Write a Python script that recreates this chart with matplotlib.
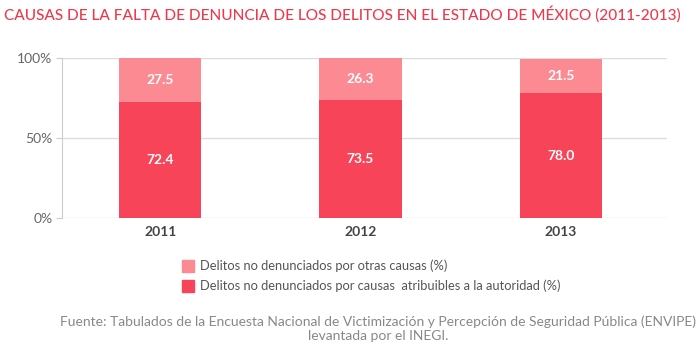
import matplotlib.pyplot as plt
from matplotlib.patches import Rectangle

plt.rcParams['font.family'] = ['Lato', 'DejaVu Sans']

years = ['2011', '2012', '2013']
autoridad = [72.4, 73.5, 78.0]
otras = [27.5, 26.3, 21.5]

c_light = '#FB8A93'
c_red = '#F84458'

fig = plt.figure(figsize=(7, 3.5), dpi=100)
ax = fig.add_axes([62 / 700, 1 - 218 / 350, 605 / 700, 160 / 350])

x = range(len(years))
ax.bar(x, autoridad, width=0.41, color=c_red, zorder=3)
ax.bar(x, otras, width=0.41, bottom=autoridad, color=c_light, zorder=3)

for i in x:
    ax.text(i, autoridad[i] / 2, f'{autoridad[i]:.1f}', ha='center', va='center',
            color='white', fontsize=10, fontweight='bold', zorder=4)
    ax.text(i, autoridad[i] + otras[i] / 2, f'{otras[i]:.1f}', ha='center', va='center',
            color='white', fontsize=10, fontweight='bold', zorder=4)

ax.set_xlim(-0.49, 2.53)
ax.set_ylim(0, 100)
ax.set_yticks([0, 50, 100])
ax.set_yticklabels(['0%', '50%', '100%'])
ax.set_xticks(list(x))
ax.set_xticklabels(years, fontweight='bold', color='#444444', fontsize=10)
ax.tick_params(axis='x', length=0, pad=6)
ax.tick_params(axis='y', length=4, color='#cccccc', labelcolor='#666666', labelsize=10, pad=3)
ax.grid(axis='y', color='#dddddd', linewidth=1, zorder=0)
for s in ['top', 'right', 'bottom']:
    ax.spines[s].set_visible(False)
ax.spines['left'].set_color('#cccccc')

fig.text(4 / 700, 1 - 14 / 350, 'CAUSAS DE LA FALTA DE DENUNCIA DE LOS DELITOS EN EL ESTADO DE MÉXICO (2011-2013)',
         color='#F0384C', fontsize=11.1, fontweight='medium', va='center', ha='left')

legend_items = [('Delitos no denunciados por otras causas (%)', c_light, 266),
                ('Delitos no denunciados por causas  atribuibles a la autoridad (%)', c_red, 286)]
for label, col, yy in legend_items:
    fig.patches.append(Rectangle((182 / 700, 1 - (yy + 6) / 350), 12 / 700, 12 / 350,
                                 transform=fig.transFigure, color=col))
    fig.text(200 / 700, 1 - yy / 350, label, color='#555555', fontsize=9.3, va='center', ha='left')

fig.text(378 / 700, 1 - 322 / 350,
         'Fuente: Tabulados de la Encuesta Nacional de Victimización y Percepción de Seguridad Pública (ENVIPE)',
         color='#888888', fontsize=10, ha='center', va='center')
fig.text(378 / 700, 1 - 336 / 350, 'levantada por el INEGI.',
         color='#888888', fontsize=10, ha='center', va='center')

fig.savefig('out.png', dpi=100)
